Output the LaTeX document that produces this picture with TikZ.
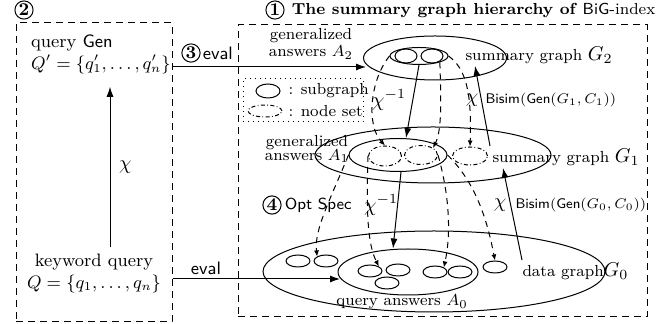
\documentclass[tikz,border=0pt]{standalone}
\usepackage{amsmath}
\usetikzlibrary{arrows.meta,shapes.geometric,positioning}
\begin{document}
\begin{tikzpicture}[
    x=0.5pt, y=-0.5pt, line width=0.5pt,
    frame/.style={draw, dash pattern=on 3.5pt off 2.5pt, inner sep=0pt},
    gph/.style={draw, ellipse, inner sep=0pt},
    sub/.style={gph, minimum width=12pt, minimum height=6pt},
    nset/.style={gph, dash pattern=on 2pt off 1.2pt on 0.4pt off 1.2pt},
    num/.style={draw, circle, inner sep=0.4pt, font=\bfseries\small},
    lbl/.style={font=\footnotesize, inner sep=1pt},
    arr/.style={-{Latex[length=5pt,width=3.5pt]}},
    darr/.style={dash pattern=on 3pt off 2.5pt, -{Latex[length=3pt,width=2.5pt]}},
  ]
  \useasboundingbox (0,0) rectangle (672,324);
  % left box
  \node[frame, minimum width=78pt, minimum height=149.5pt] (qbox) at (94,172.5) {};
  \node[num] (n2) at (24,10) {2};
  \node[align=left, anchor=west, font=\small] (qgen) at (24,54)
    {query \textsf{Gen}\\$Q'=\{q'_1,\ldots,q'_n\}$};
  \node[align=center, font=\small] (kw) at (94,274)
    {keyword query\\$Q=\{q_1,\ldots,q_n\}$};
  \draw[arr] ([xshift=8pt]kw.north) -- ([xshift=8pt,yshift=-3pt]kw.north |- qgen.south)
    node[midway, anchor=west, xshift=1pt] {$\chi$};
  % right box
  \node[frame, minimum width=204.5pt, minimum height=146pt] (hbox) at (442.5,171) {};
  \node[num] (n1) at (275,10) {1};
  \node[right=0pt of n1, font=\footnotesize] (title)
    {\textbf{The summary graph hierarchy of} \textsf{BiG}-index};
  % G2
  \node[gph, minimum width=71.5pt, minimum height=22pt] (G2) at (435,58) {};
  \node[gph, minimum width=29pt, minimum height=8.5pt] (A2) at (419,56) {};
  \node[gph, minimum width=11pt, minimum height=7pt] (s21) at (406,56) {};
  \node[gph, minimum width=11pt, minimum height=7pt] (s22) at (432,56) {};
  \node[lbl, anchor=west] (G2t) at (463,55) {summary graph \normalsize$G_2$};
  \node[lbl, align=center] (A2t) at (311,44) {generalized\\[-1pt]answers $A_2$};
  % legend
  \node[draw, dotted, minimum width=60pt, minimum height=21.5pt, inner sep=0pt] (legend) at (303,100.5) {};
  \node[gph, minimum width=12pt, minimum height=7pt] (lsub) at (268,91) {};
  \node[lbl, anchor=west] (lsubt) at (286,91) {: subgraph};
  \node[nset, minimum width=17pt, minimum height=6pt] (lset) at (265,111) {};
  \node[lbl, anchor=west] (lsett) at (286,111) {: node set};
  % G1
  \node[gph, minimum width=118pt, minimum height=28pt] (G1) at (433,155) {};
  \node[gph, minimum width=49pt, minimum height=16.5pt] (A1) at (398,155) {};
  \node[nset, minimum width=16.5pt, minimum height=10pt] (ns1) at (385,156) {};
  \node[nset, minimum width=16.5pt, minimum height=9.5pt] (ns2) at (421,155) {};
  \node[nset, minimum width=17.5pt, minimum height=9pt] (ns3) at (470,156) {};
  \node[lbl, anchor=west] (G1t) at (490,157) {summary graph \normalsize$G_1$};
  \node[lbl, align=center] (A1t) at (307,149) {generalized\\[-2.5pt]answers $A_1$};
  % G0
  \node[gph, minimum width=171pt, minimum height=40.5pt] (G0) at (434,271.5) {};
  \node[gph, minimum width=70pt, minimum height=23pt] (A0) at (408,272) {};
  \node[sub] (g1) at (298,261) {};
  \node[sub] (g2) at (326,261) {};
  \node[sub] (g3) at (495,267) {};
  \node[sub] (a1) at (370,271) {};
  \node[sub] (a2) at (398,270) {};
  \node[sub] (a3) at (387,283) {};
  \node[sub] (a4) at (435,272) {};
  \node[sub] (a5) at (460,272) {};
  \node[lbl] (A0t) at (402,302) {query answers $A_0$};
  \node[lbl, anchor=west] (G0t) at (520,271) {data graph\normalsize$G_0$};
  % eval
  \coordinate (in2) at (366,67);
  \coordinate (in0) at (340,279);
  \draw[arr] (qbox.east |- in2) -- (in2);
  \node[num] (n3) at (191,53) {3};
  \node[right=-2.5pt of n3, font=\small\sffamily] (ev2) {eval};
  \draw[arr] (qbox.east |- in0) -- (in0);
  \node[font=\small\sffamily] (ev0) at (206,268) {eval};
  \node[num] (n4) at (272,205) {4};
  \node[right=-2pt of n4, font=\footnotesize\sffamily] (opt) {Opt Spec};
  % mappings
  \node (ci2) at (389,100) {$\chi^{-1}$};
  \node (ci1) at (381,205) {$\chi^{-1}$};
  \node (ch2) at (472,100) {$\chi$};
  \node (ch1) at (500,205) {$\chi$};
  \node[lbl, font=\scriptsize, anchor=west] (bs2) at (483,100) {$\textsf{Bisim}(\textsf{Gen}(G_1,C_1))$};
  \node[lbl, font=\scriptsize, anchor=west] (bs1) at (513,205) {$\textsf{Bisim}(\textsf{Gen}(G_0,C_0))$};
  \draw[arr] (A2.south) -- ([xshift=4pt]A1.north);
  \draw[arr] ([xshift=1.5pt]A1.south) -- ([xshift=-7.5pt]A0.north);
  \draw[arr] (G1t.north west) -- ([xshift=6pt]G2t.south west);
  \draw[arr] ([xshift=1pt]G0t.north west) -- ([xshift=6.5pt]G1t.south west);
  \draw[darr] (A2.west) .. controls (370,80) and (366,125) .. (ns1.north);
  \draw[darr] (A2.south east) .. controls (441,100) and (442,130) .. (ns2.north east);
  \draw[darr] (A2.east) .. controls (465,68) and (472,90) .. (ns3.north);
  \draw[darr] (A1.west) .. controls (330,200) and (314,230) .. (g2.north west);
  \draw[darr] (ns1.west) .. controls (366,215) and (368,245) .. (a1.north east);
  \draw[darr] (ns2.east) .. controls (448,190) and (452,230) .. (a4.north east);
  \draw[darr] (A1.east) .. controls (478,185) and (488,225) .. (g3.north);
\end{tikzpicture}
\end{document}
